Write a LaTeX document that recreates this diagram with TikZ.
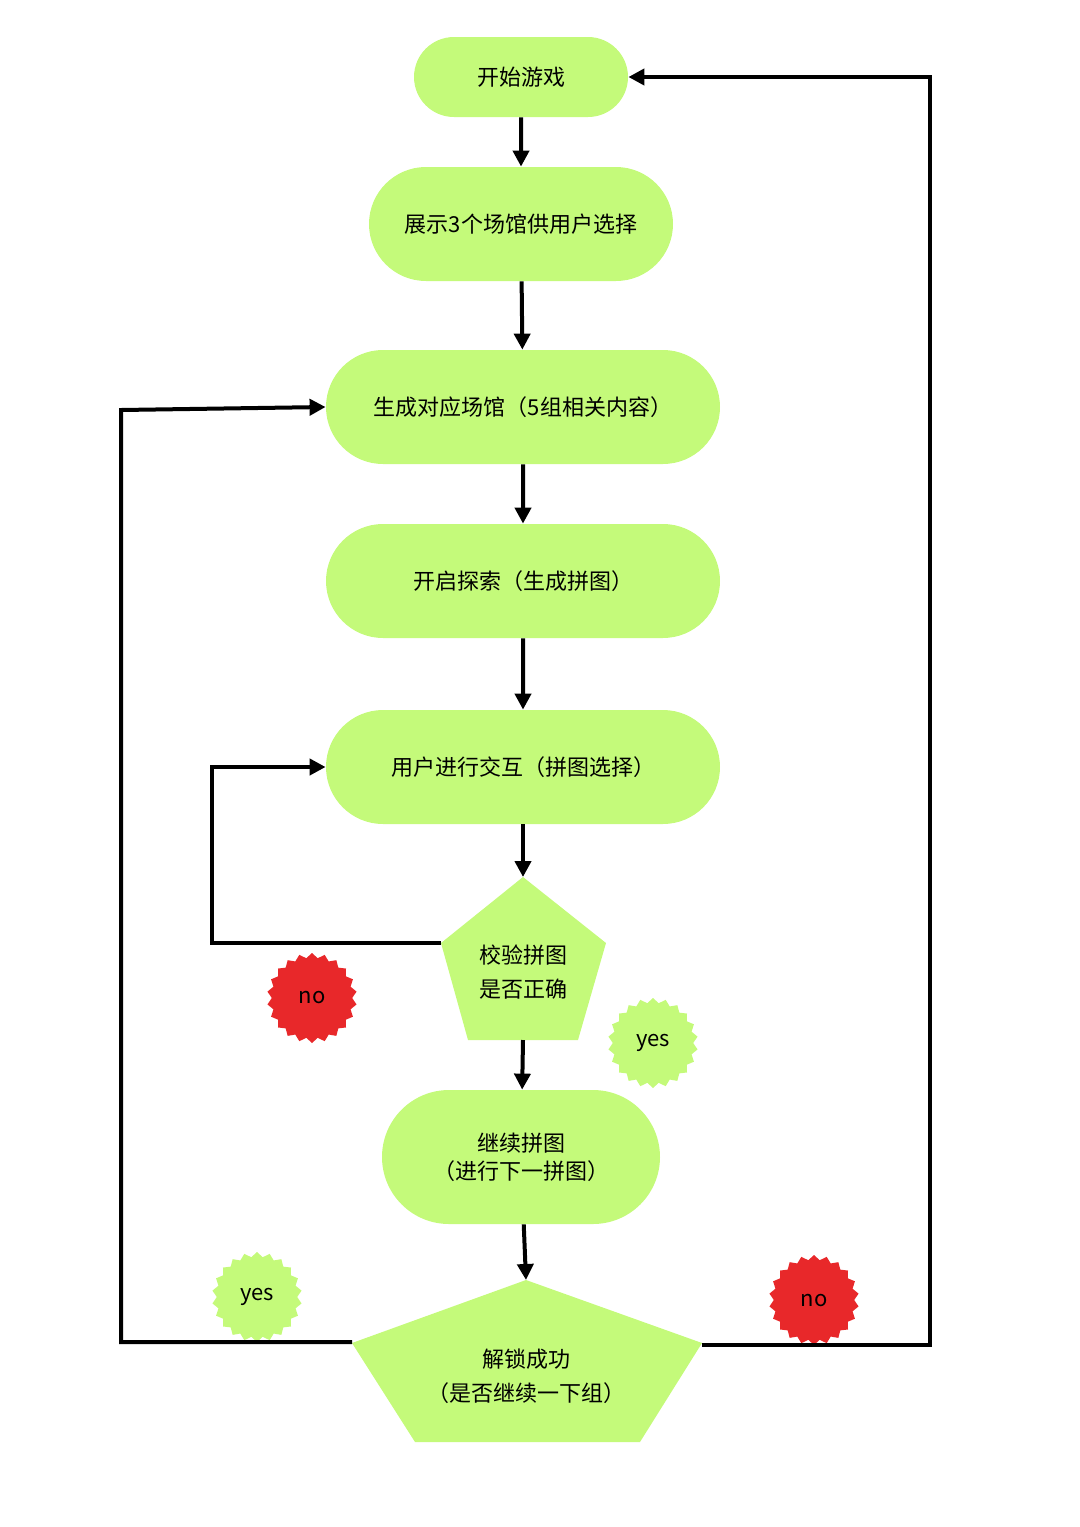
\documentclass[tikz,border=0pt]{standalone}
\usepackage{fontspec}
\setmainfont{Noto Sans CJK SC}
\usetikzlibrary{shapes.geometric,shapes.misc,arrows.meta}
\definecolor{boxgreen}{RGB}{196,250,122}
\definecolor{badred}{RGB}{232,40,42}
\tikzset{
  stage/.style={rounded rectangle,fill=boxgreen,font=\fontsize{11}{14}\selectfont,align=center,inner sep=0pt},
  flow/.style={line width=2pt,-{Triangle[length=8pt,width=8pt]}},
  badge/.style={star,star points=22,star point ratio=1.12,minimum size=45pt,inner sep=0pt,font=\fontsize{11}{13}\selectfont}
}
\begin{document}
\begin{tikzpicture}[x=0.5pt,y=-0.5pt]
\useasboundingbox (0,0) rectangle (1080,1527);
% boxes
\node[stage,minimum width=107pt,minimum height=40pt] (start) at (521,77) {开始游戏};
\node[stage,minimum width=152pt,minimum height=57pt] (show) at (521,224) {展示3个场馆供用户选择};
\node[stage,minimum width=197pt,minimum height=57pt] (gen) at (523,407) {生成对应场馆（5组相关内容）};
\node[stage,minimum width=197pt,minimum height=57pt] (explore) at (523,581) {开启探索（生成拼图）};
\node[stage,minimum width=197pt,minimum height=57pt] (interact) at (523,767) {用户进行交互（拼图选择）};
\node[stage,minimum width=139pt,minimum height=67pt] (cont) at (521,1157) {继续拼图\\（进行下一拼图）};
% pentagons
\fill[boxgreen] (523,877) -- (606,943) -- (578,1040) -- (468,1040) -- (441,943) -- cycle;
\node[font=\fontsize{11}{17}\selectfont,align=center] (check) at (523,972) {校验拼图\\是否正确};
\fill[boxgreen] (526,1280) -- (702,1343) -- (640,1442) -- (415,1442) -- (352,1343) -- cycle;
\node[font=\fontsize{11}{17}\selectfont,align=center] (unlock) at (526,1376) {解锁成功\\（是否继续一下组）};
\coordinate (checkT) at (523,877);
\coordinate (checkB) at (523,1040);
\coordinate (checkL) at (441,943);
\coordinate (unlockT) at (526,1280);
\coordinate (unlockL) at (352,1342);
\coordinate (unlockR) at (702,1345);
% badges
\node[badge,fill=badred] (no1) at (312,998) {no};
\node[badge,fill=boxgreen] (yes1) at (653,1043) {yes};
\node[badge,fill=boxgreen] (yes2) at (257,1297) {yes};
\node[badge,fill=badred] (no2) at (814,1300) {no};
% arrows
\draw[flow] (start) -- (show);
\draw[flow] (show) -- (gen);
\draw[flow] (gen) -- (explore);
\draw[flow] (explore) -- (interact);
\draw[flow] (interact) -- (checkT);
\draw[flow] (checkB) -- (cont);
\draw[flow] (cont) -- (unlockT);
\draw[flow] (checkL) -- (212,943) -- (212,767) -- (interact.west);
\draw[flow] (unlockL) -- (121,1342) -- (121,410) -- (gen.west);
\draw[flow] (unlockR) -- (930,1345) -- (930,77) -- (start.east);
\end{tikzpicture}
\end{document}
